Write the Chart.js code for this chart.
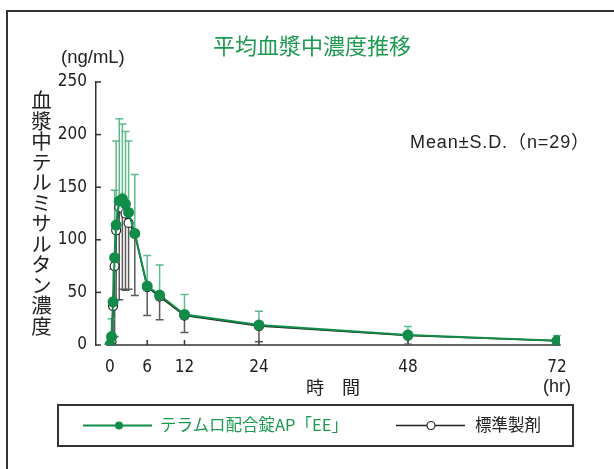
<!DOCTYPE html>
<html><head><meta charset="utf-8">
<script src="https://cdn.jsdelivr.net/npm/chart.js@4.4.1/dist/chart.umd.min.js"></script>
<style>
html,body{margin:0;padding:0;background:#fff;}
#wrap{position:relative;width:614px;height:469px;overflow:hidden;background:#fff;font-family:'Noto Sans CJK JP','Liberation Sans',sans-serif;}
#frame{position:absolute;left:6px;top:10px;width:640px;height:480px;border-left:2px solid #333;border-top:2px solid #333;}
canvas{position:absolute;left:0;top:0;}
.t{position:absolute;white-space:nowrap;line-height:1;}
#title{left:112px;width:400px;text-align:center;top:33px;font-size:22px;color:#1e9a50;}
#unit{left:61px;top:48px;font-size:18.5px;color:#222;font-family:'Liberation Sans',sans-serif;}
#ytitle{left:31px;top:90px;font-size:20.5px;color:#222;writing-mode:vertical-rl;text-orientation:upright;}
#mean{left:410px;top:133px;font-size:18px;letter-spacing:0.9px;color:#222;font-family:'Liberation Sans','Noto Sans CJK JP',sans-serif;}
#xlab{left:306px;top:377px;font-size:18px;color:#222;}
#hr{left:543px;top:377px;font-size:18px;color:#222;font-family:'Liberation Sans',sans-serif;}
#legend{position:absolute;left:57px;top:404px;width:513px;height:39px;border:2px solid #333;}
#legend svg{position:absolute;left:0;top:0;}
.lt{position:absolute;top:10px;font-size:16.5px;line-height:1;white-space:nowrap;}
</style></head>
<body><div id="wrap">
<div id="frame"></div>
<canvas id="c" width="614" height="469"></canvas>
<div class="t" id="title">平均血漿中濃度推移</div>
<div class="t" id="unit">(ng/mL)</div>
<div class="t" id="ytitle">血漿中テルミサルタン濃度</div>
<div class="t" id="mean">Mean±S.D.（n=29）</div>
<div class="t" id="xlab">時　間</div>
<div class="t" id="hr">(hr)</div>
<div id="legend">
<svg width="513" height="39">
<line x1="24" y1="19.5" x2="93" y2="19.5" stroke="#128c49" stroke-width="2"/>
<circle cx="60" cy="19.5" r="4" fill="#128c49"/>
<line x1="337" y1="19.5" x2="406" y2="19.5" stroke="#222" stroke-width="1.5"/>
<circle cx="372" cy="19.5" r="4" fill="#fff" stroke="#222" stroke-width="1.2"/>
</svg>
<div class="lt" style="left:101px;color:#1e9a50;">テラムロ配合錠AP「EE」</div>
<div class="lt" style="left:416px;color:#222;">標準製剤</div>
</div>
</div>
<script>
const times   = [0, 0.25, 0.5, 0.75, 1, 1.5, 2, 2.5, 3, 4, 6, 8, 12, 24, 48, 72];
const eeMean  = [0, 8, 41, 83, 114, 137, 139, 134, 126, 106, 56, 47.5, 29, 19, 9.5, 4];
const eeSD    = [0, 17, 31, 64, 80, 78, 71, 69, 68, 56, 29, 28.5, 19, 13, 8, 5];
const refMean = [0, 3, 37, 75, 109, 131, 130, 125, 116, 106, 55, 46, 28, 18, 9, 4];
const refSD   = [0, 3, 30, 67, 66, 88, 77, 73, 63, 59, 27, 22, 16, 15, 8.3, 4];
const xTicks  = [0, 6, 12, 24, 48, 72];
const yTicks  = [0, 50, 100, 150, 200, 250];

const GREEN = '#128c49';
const pts = (m) => times.map((t, i) => ({x: t, y: m[i]}));

const errorBars = {
  id: 'errorBars',
  beforeDatasetsDraw(chart) {
    const ctx = chart.ctx;
    const xs = chart.scales.x, ys = chart.scales.y;
    const specs = [
      {mean: refMean, sd: refSD, dir: -1, color: '#5a5a5a'},
      {mean: eeMean, sd: eeSD, dir: 1, color: '#5fbb8c'}
    ];
    ctx.save();
    ctx.strokeStyle = '#333';
    ctx.lineWidth = 1.5;
    const yb = ys.getPixelForValue(0);
    ctx.beginPath();
    ctx.moveTo(xs.getPixelForValue(-0.6), yb);
    ctx.lineTo(chart.chartArea.right, yb);
    ctx.stroke();
    xTicks.forEach(v => {
      const px = xs.getPixelForValue(v);
      ctx.beginPath(); ctx.moveTo(px, yb); ctx.lineTo(px, yb - 5); ctx.stroke();
    });
    const xl = chart.chartArea.left;
    yTicks.forEach(v => {
      const py = ys.getPixelForValue(v);
      ctx.beginPath(); ctx.moveTo(xl, py); ctx.lineTo(xl + 5, py); ctx.stroke();
    });
    specs.forEach(s => {
      ctx.strokeStyle = s.color;
      ctx.lineWidth = 1.5;
      times.forEach((t, i) => {
        if (!s.sd[i]) return;
        const px = xs.getPixelForValue(t);
        const p0 = ys.getPixelForValue(s.mean[i]);
        const p1 = ys.getPixelForValue(s.mean[i] + s.dir * s.sd[i]);
        ctx.beginPath();
        ctx.moveTo(px, p0); ctx.lineTo(px, p1);
        ctx.moveTo(px - 4, p1); ctx.lineTo(px + 4, p1);
        ctx.stroke();
      });
    });
    ctx.restore();
  }
};

new Chart(document.getElementById('c'), {
  type: 'line',
  data: {
    datasets: [
      {label: 'テラムロ配合錠AP「EE」', data: pts(eeMean), borderColor: GREEN, backgroundColor: GREEN,
       borderWidth: 2, pointRadius: 4.5, pointBackgroundColor: GREEN, pointBorderColor: GREEN, order: 0, tension: 0},
      {label: '標準製剤', data: pts(refMean), borderColor: '#222', backgroundColor: '#fff',
       borderWidth: 1.5, pointRadius: 4.5, pointBackgroundColor: '#fff', pointBorderColor: '#222', pointBorderWidth: 1.2, order: 1, tension: 0}
    ]
  },
  options: {
    responsive: false,
    devicePixelRatio: 1,
    animation: false,
    layout: {padding: {top: 82, right: 54, left: 0, bottom: 0}},
    plugins: {legend: {display: false}, tooltip: {enabled: false}, title: {display: false}},
    scales: {
      x: {
        type: 'linear', min: -2.25, max: 72.5,
        afterBuildTicks: (s) => { s.ticks = xTicks.map(v => ({value: v})); },
        afterFit: (s) => { s.height = 124; },
        grid: {display: false, drawTicks: false},
        border: {display: false},
        ticks: {padding: 12, color: '#222', font: {family: "'Liberation Sans Narrow','DejaVu Sans Condensed',sans-serif", size: 17}, maxRotation: 0, autoSkip: false}
      },
      y: {
        min: 0, max: 250,
        afterBuildTicks: (s) => { s.ticks = yTicks.map(v => ({value: v})); },
        afterFit: (s) => { s.width = 96; },
        grid: {display: false, drawTicks: false},
        border: {display: true, color: '#333', width: 1.5},
        ticks: {padding: 9, color: '#222', font: {family: "'Liberation Sans Narrow','DejaVu Sans Condensed',sans-serif", size: 17}}
      }
    }
  },
  plugins: [errorBars]
});
</script>
</body></html>
